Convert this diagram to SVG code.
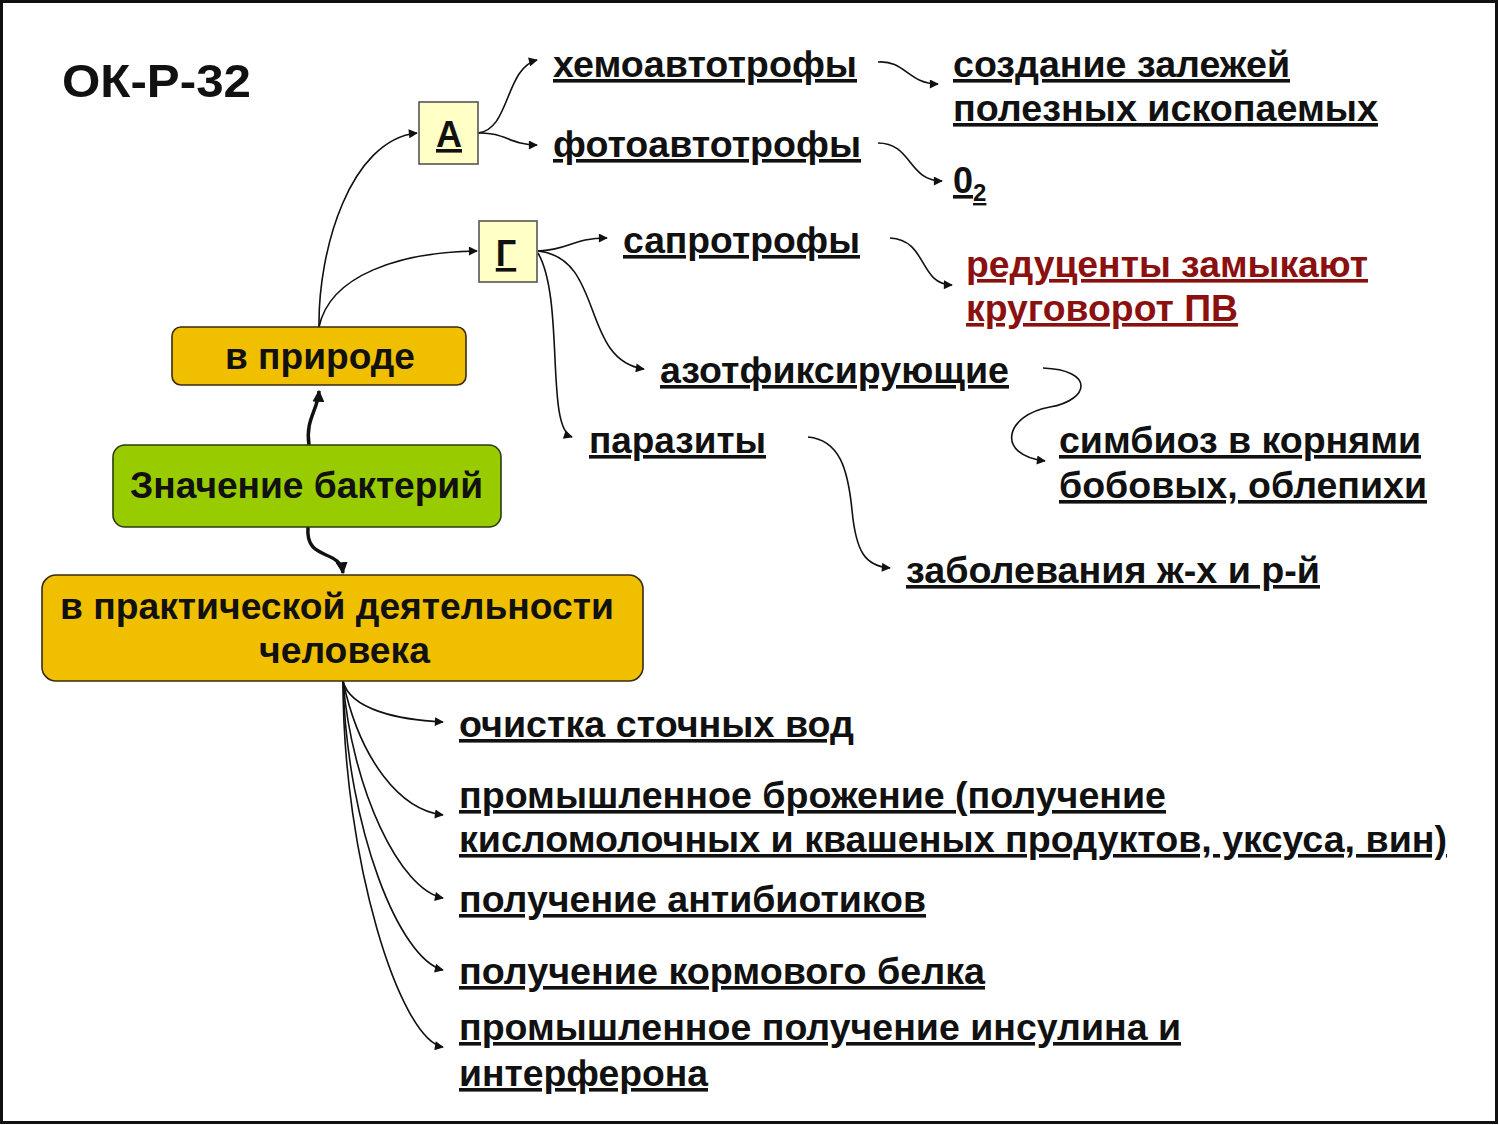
<svg xmlns="http://www.w3.org/2000/svg" width="1499" height="1125" viewBox="0 0 1499 1125">
<style>
.t{font-family:"Liberation Sans",Arial,sans-serif;font-weight:bold;font-size:36px;fill:#111;text-decoration:underline}
.n{font-family:"Liberation Sans",Arial,sans-serif;font-weight:bold;font-size:36px;fill:#111}
.red{fill:#8B1010}
.c{fill:none;stroke:#111;stroke-width:1.6}
.ck{fill:none;stroke:#111;stroke-width:3.5}
.gold{fill:#F0C000;stroke:#3a2a10;stroke-width:1.6}
.grn{fill:#99CC00;stroke:#2a3a10;stroke-width:1.6}
.sq{fill:#FFFFC6;stroke:#555;stroke-width:1.6}
</style>
<defs>
<marker id="ar" viewBox="0 0 10 10" refX="9" refY="5" markerWidth="11" markerHeight="9" markerUnits="userSpaceOnUse" orient="auto"><path d="M0,0 L10,5 L0,10 Z" fill="#111"/></marker>
<marker id="arb" viewBox="0 0 10 10" refX="9" refY="5" markerWidth="12" markerHeight="12" markerUnits="userSpaceOnUse" orient="auto"><path d="M0,0 L10,5 L0,10 Z" fill="#111"/></marker>
</defs>
<rect x="0" y="0" width="1499" height="1125" fill="#fff"/>
<rect x="1.5" y="1.5" width="1495" height="1121" fill="none" stroke="#111" stroke-width="3"/>

<text x="62" y="97" class="n" textLength="189" lengthAdjust="spacingAndGlyphs" style="font-size:47px">ОК-Р-32</text>

<g id="connectors">
<path class="c" d="M319,327 C318,250 350,140 417,133" marker-end="url(#ar)"/>
<path class="c" d="M319,327 C330,275 400,252 477,251" marker-end="url(#ar)"/>
<path class="c" d="M478,133 C510,130 505,68 537,60" marker-end="url(#ar)"/>
<path class="c" d="M478,133 C505,132 510,145 537,145" marker-end="url(#ar)"/>
<path class="c" d="M878,62 C905,60 908,84 938,84" marker-end="url(#ar)"/>
<path class="c" d="M878,143 C912,143 908,181 942,181" marker-end="url(#ar)"/>
<path class="c" d="M538,251 C570,250 572,238 607,238" marker-end="url(#ar)"/>
<path class="c" d="M538,251 C605,258 580,360 644,369" marker-end="url(#ar)"/>
<path class="c" d="M538,253 C565,300 545,428 572,437" marker-end="url(#ar)"/>
<path class="c" d="M890,238 C928,240 918,284 952,285" marker-end="url(#ar)"/>
<path class="c" d="M1043,368 C1095,370 1090,400 1050,407 C1005,415 995,455 1045,461" marker-end="url(#ar)"/>
<path class="c" d="M808,437 C840,440 848,470 852,510 C856,552 865,566 890,568" marker-end="url(#ar)"/>
<path class="ck" d="M309,445 C305,420 318,410 319,391" marker-end="url(#arb)"/>
<path class="ck" d="M308,527 C305,562 340,548 343,573" marker-end="url(#arb)"/>
<path class="c" d="M343,681 C350,710 400,720 443,722" marker-end="url(#ar)"/>
<path class="c" d="M343,681 C360,760 400,810 443,815" marker-end="url(#ar)"/>
<path class="c" d="M343,681 C352,790 400,890 443,898" marker-end="url(#ar)"/>
<path class="c" d="M343,681 C347,830 400,960 443,970" marker-end="url(#ar)"/>
<path class="c" d="M343,681 C343,860 400,1040 443,1047" marker-end="url(#ar)"/>
</g>

<g id="node-znachenie"><rect class="grn" x="113" y="445" width="388" height="82" rx="12"/><text class="n" x="130" y="498" textLength="353" lengthAdjust="spacingAndGlyphs">Значение бактерий</text></g>
<g id="node-priroda"><rect class="gold" x="172" y="327" width="294" height="58" rx="9"/><text class="n" x="225" y="369" textLength="190" lengthAdjust="spacingAndGlyphs">в природе</text></g>
<g id="node-praktika"><rect class="gold" x="42" y="575" width="601" height="106" rx="14"/><text class="n" x="60" y="619" textLength="554" lengthAdjust="spacingAndGlyphs">в практической деятельности</text><text class="n" x="259" y="663" textLength="171" lengthAdjust="spacingAndGlyphs">человека</text></g>
<g id="node-A"><rect class="sq" x="419" y="102" width="59" height="62"/><text class="t" x="449" y="147" text-anchor="middle">А</text></g>
<g id="node-G"><rect class="sq" x="479" y="221" width="58" height="61"/><text class="t" x="506" y="266" text-anchor="middle">Г</text></g>

<g id="node-hemo"><text class="t" x="553" y="77" textLength="304" lengthAdjust="spacingAndGlyphs">хемоавтотрофы</text></g>
<g id="node-foto"><text class="t" x="553" y="157" textLength="308" lengthAdjust="spacingAndGlyphs">фотоавтотрофы</text></g>
<g id="node-zalezh"><text class="t" x="953" y="77" textLength="337" lengthAdjust="spacingAndGlyphs">создание залежей</text><text class="t" x="953" y="121" textLength="425" lengthAdjust="spacingAndGlyphs">полезных ископаемых</text></g>
<g id="node-o2"><text class="t" x="953" y="193">0<tspan font-size="24" dy="8">2</tspan></text></g>
<g id="node-sapro"><text class="t" x="623" y="253" textLength="237" lengthAdjust="spacingAndGlyphs">сапротрофы</text></g>
<g id="node-redu"><text class="t red" x="966" y="277" textLength="402" lengthAdjust="spacingAndGlyphs">редуценты замыкают</text><text class="t red" x="966" y="321" textLength="272" lengthAdjust="spacingAndGlyphs">круговорот ПВ</text></g>
<g id="node-azot"><text class="t" x="660" y="383" textLength="349" lengthAdjust="spacingAndGlyphs">азотфиксирующие</text></g>
<g id="node-paraz"><text class="t" x="589" y="453" textLength="177" lengthAdjust="spacingAndGlyphs">паразиты</text></g>
<g id="node-simb"><text class="t" x="1059" y="453" textLength="362" lengthAdjust="spacingAndGlyphs">симбиоз в корнями</text><text class="t" x="1059" y="498" textLength="368" lengthAdjust="spacingAndGlyphs">бобовых, облепихи</text></g>
<g id="node-zabol"><text class="t" x="906" y="583" textLength="414" lengthAdjust="spacingAndGlyphs">заболевания ж-х и р-й</text></g>
<g id="node-ochist"><text class="t" x="459" y="737" textLength="395" lengthAdjust="spacingAndGlyphs">очистка сточных вод</text></g>
<g id="node-brozh"><text class="t" x="459" y="808" textLength="707" lengthAdjust="spacingAndGlyphs">промышленное брожение (получение</text><text class="t" x="459" y="852" textLength="988" lengthAdjust="spacingAndGlyphs">кисломолочных и квашеных продуктов, уксуса, вин)</text></g>
<g id="node-antib"><text class="t" x="459" y="912" textLength="467" lengthAdjust="spacingAndGlyphs">получение антибиотиков</text></g>
<g id="node-korm"><text class="t" x="459" y="984" textLength="526" lengthAdjust="spacingAndGlyphs">получение кормового белка</text></g>
<g id="node-insul"><text class="t" x="459" y="1040" textLength="722" lengthAdjust="spacingAndGlyphs">промышленное получение инсулина и</text><text class="t" x="459" y="1086" textLength="249" lengthAdjust="spacingAndGlyphs">интерферона</text></g>
</svg>
